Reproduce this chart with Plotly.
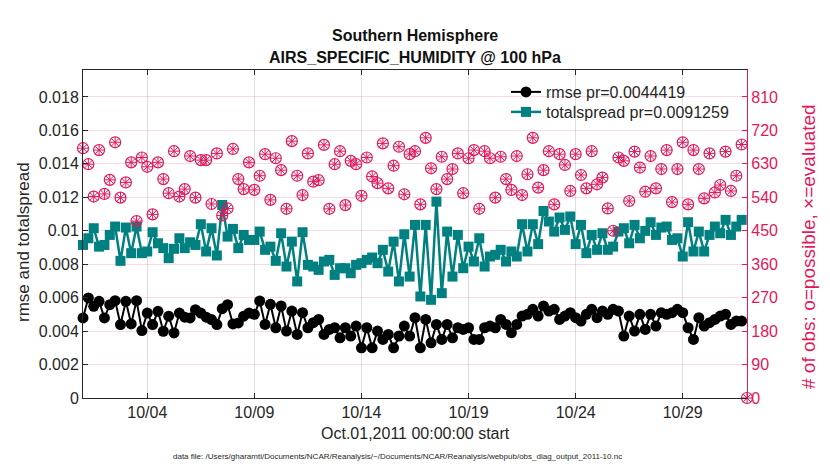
import pandas as pd
import plotly.graph_objects as go

# ---------------- data ----------------
start = "2011-10-01 00:00:00"
n_bins = 124

rmse = [
    0.00479, 0.00598, 0.00548, 0.00578, 0.00479, 0.00558, 0.00582, 0.00439, 0.00578, 0.00443,
    0.00582, 0.00403, 0.00508, 0.00439, 0.00518, 0.00399, 0.00489, 0.00389, 0.00508, 0.00483,
    0.00479, 0.00528, 0.00508, 0.00483, 0.00469, 0.00439, 0.00534, 0.00558, 0.00443, 0.00449,
    0.00489, 0.00508,
    0.0050, 0.0058, 0.0044, 0.0056, 0.0042, 0.0055, 0.0040, 0.0052, 0.0038,
    0.0051, 0.0042, 0.0045, 0.0047, 0.0038, 0.0041, 0.0042, 0.0036, 0.0042, 0.0037,
    0.0043, 0.0030, 0.0042, 0.0030, 0.0040, 0.0035, 0.0038, 0.0030, 0.0037, 0.0043,
    0.0037, 0.0048, 0.0030, 0.0047, 0.0033, 0.0044, 0.0035, 0.0044, 0.0036, 0.0042,
    0.0041, 0.0042, 0.0035, 0.0035, 0.0042, 0.0043, 0.0042, 0.0047, 0.0044, 0.0039,
    0.0044,
    0.0049, 0.0050, 0.0053, 0.0049, 0.0055, 0.0052, 0.0053, 0.0047, 0.0049, 0.0051,
    0.0048, 0.0046, 0.0050, 0.0053, 0.0048, 0.0052, 0.0050, 0.0053, 0.0052,
    0.0037, 0.0049, 0.0040, 0.0050, 0.0041, 0.0050, 0.0043, 0.0051,
    0.0050, 0.0051, 0.0053,
    0.0051, 0.0042, 0.0035, 0.0048, 0.0043,
    0.0045, 0.0047, 0.0049, 0.0050, 0.0044, 0.0046, 0.0046,
]

totalspread = [
    0.00915, 0.00955, 0.01015, 0.00905, 0.00915, 0.00975, 0.01025, 0.00820, 0.01019, 0.00866,
    0.01025, 0.00866, 0.00876, 0.00991, 0.00925, 0.00896, 0.00836, 0.00892, 0.00955, 0.00896,
    0.00931, 0.00915, 0.01039, 0.00876, 0.01015, 0.00852, 0.01154, 0.00965, 0.01011, 0.00896,
    0.00975, 0.00945,
    0.00945, 0.00995, 0.00886, 0.00905, 0.00820, 0.00985, 0.00786, 0.00935, 0.00697, 0.00991,
    0.00796, 0.00786, 0.00766, 0.00816, 0.00826, 0.00736, 0.00776, 0.00776, 0.00746, 0.00796,
    0.00806, 0.00826, 0.00840, 0.00806, 0.00886, 0.00756, 0.00935, 0.00697, 0.00979, 0.00726,
    0.01035,
    0.00607, 0.01035, 0.00587, 0.01174, 0.00627, 0.00995, 0.00726, 0.00975, 0.00776, 0.00905,
    0.00816, 0.00955, 0.00786, 0.00846, 0.00856, 0.00886, 0.00816, 0.00876, 0.00846, 0.01039,
    0.00876, 0.01039, 0.00920, 0.01118, 0.01055, 0.00995, 0.01079, 0.01005, 0.01085, 0.00920,
    0.01035,
    0.00866, 0.00975, 0.00886, 0.00985, 0.00886, 0.00905, 0.00995, 0.01015, 0.00925, 0.01035,
    0.00955, 0.00999, 0.01051, 0.00975, 0.01019, 0.01025, 0.00945, 0.00955, 0.00846, 0.01051,
    0.00876, 0.00995, 0.00876, 0.00975, 0.01025, 0.00985, 0.01065, 0.00975, 0.01025, 0.01065,
]

obs_possible = [
    672, 629, 542, 667, 549, 587, 688, 539, 580, 634,
    476, 647, 622, 494, 634, 589, 551, 664, 542, 562,
    651, 539, 640, 640, 522, 658, 491, 510, 670, 589,
    562, 634, 560, 598, 656, 533, 645, 613, 509, 691,
    598, 546, 658, 582, 586, 681, 509, 629, 664, 519,
    638, 629, 544, 647, 596, 578, 685, 564, 625, 676,
    548, 656, 664, 521, 700, 618, 562, 649, 589, 616,
    658, 551, 645, 667, 509, 664, 645, 539, 649, 589,
    560, 651, 546, 602, 700, 566, 613, 664, 521, 656,
    627, 557, 656, 600, 564, 664, 575, 593, 510, 450,
    647, 638, 530, 663, 620, 555, 651, 564, 616, 667,
    527, 616, 688, 521, 667, 616, 537, 658, 553, 573,
    663, 557, 598, 682, 0,
]
obs_evaluated = list(obs_possible)

x_tick_dates = ["2011-10-04", "2011-10-09", "2011-10-14", "2011-10-19", "2011-10-24", "2011-10-29"]
x_tick_labels = ["10/04", "10/09", "10/14", "10/19", "10/24", "10/29"]
left_ticks = [0, 0.002, 0.004, 0.006, 0.008, 0.010, 0.012, 0.014, 0.016, 0.018]
left_tick_labels = ["0", "0.002", "0.004", "0.006", "0.008", "0.01", "0.012", "0.014", "0.016", "0.018"]
right_ticks = [0, 90, 180, 270, 360, 450, 540, 630, 720, 810]

rmse_name = "rmse pr=0.0044419"
spread_name = "totalspread pr=0.0091259"
title1 = "Southern Hemisphere"
title2 = "AIRS_SPECIFIC_HUMIDITY @ 100 hPa"
xlabel = "Oct.01,2011 00:00:00 start"
ylabel_left = "rmse and totalspread"
ylabel_right = "# of obs: o=possible, \u00d7=evaluated"
footnote = ("data file: /Users/gharamti/Documents/NCAR/Reanalysis/~/Documents/NCAR/"
            "Reanalysis/webpub/obs_diag_output_2011-10.nc")

# ---------------- figure ----------------
times = pd.date_range(start, periods=n_bins, freq="6h")
times_obs = pd.date_range(start, periods=len(obs_possible), freq="6h")

FONT = "Liberation Sans, Arial, Helvetica, sans-serif"
RED = "#e3175a"
TEAL = "#008080"
INK = "#262626"

fig = go.Figure()
fig.add_trace(go.Scatter(
    x=times, y=rmse, name=rmse_name, mode="lines+markers", legend="legend",
    line=dict(color="black", width=2),
    marker=dict(symbol="circle", size=11, color="black"),
    cliponaxis=False,
))
fig.add_trace(go.Scatter(
    x=times, y=totalspread, name=spread_name, mode="lines+markers", legend="legend2",
    line=dict(color=TEAL, width=2.5),
    marker=dict(symbol="square", size=10, color=TEAL),
    cliponaxis=False,
))
fig.add_trace(go.Scatter(
    x=times_obs, y=obs_possible, yaxis="y2", mode="markers", showlegend=False,
    marker=dict(symbol="circle-open", size=11, color=RED, line=dict(width=1.2, color=RED)),
    cliponaxis=False,
))
fig.add_trace(go.Scatter(
    x=times_obs, y=obs_evaluated, yaxis="y2", mode="markers", showlegend=False,
    marker=dict(symbol="asterisk-open", size=9, color=RED, line=dict(width=1, color=RED)),
    cliponaxis=False,
))

# the page has an 8px body margin; figure is sized so the plot lands on the
# reference pixel box (83..747 x 70..398 in the screenshot)
ymax = 0.01961
leg_common = dict(xanchor="left", yanchor="middle", bgcolor="rgba(0,0,0,0)", borderwidth=0,
                  font=dict(size=16, color=INK))
fig.update_layout(
    width=822, height=462,
    margin=dict(l=75, r=83, t=62, b=72),
    paper_bgcolor="white", plot_bgcolor="white",
    font=dict(family=FONT, size=16, color=INK),
    showlegend=True,
    legend=dict(x=(506 - 83) / 664.0, y=(398 - 92) / 328.0, **leg_common),
    legend2=dict(x=(506 - 83) / 664.0, y=(398 - 112) / 328.0, **leg_common),
    xaxis=dict(
        type="date", range=["2011-10-01 00:00:00", "2011-11-01 00:00:00"],
        tickvals=x_tick_dates, ticktext=x_tick_labels,
        ticks="inside", ticklen=5, tickcolor=INK,
        showline=True, linecolor=INK, linewidth=1, mirror="ticks",
        showgrid=True, gridcolor="#dedede", gridwidth=1, zeroline=False,
        tickfont=dict(size=16, color=INK),
    ),
    yaxis=dict(
        range=[0, ymax], tickvals=left_ticks, ticktext=left_tick_labels,
        ticks="inside", ticklen=5, tickcolor=INK,
        showline=True, linecolor=INK, linewidth=1,
        showgrid=False, zeroline=False,
        tickfont=dict(size=16, color=INK),
    ),
    yaxis2=dict(
        range=[0, ymax * 45000], tickvals=right_ticks, overlaying="y", side="right",
        ticks="inside", ticklen=5, tickcolor=RED,
        showline=True, linecolor=RED, linewidth=1.2,
        showgrid=True, gridcolor="rgba(227,23,90,0.16)", gridwidth=1, zeroline=False,
        tickfont=dict(size=16, color=RED),
    ),
)


def px_x(X):
    return (X - 83) / 664.0


def px_y(Y):
    return (398 - Y) / 328.0


for text, Y in ((title1, 36), (title2, 57)):
    fig.add_annotation(text="<b>" + text + "</b>", xref="paper", yref="paper", x=px_x(415),
                       y=px_y(Y), xanchor="center", yanchor="middle", showarrow=False,
                       font=dict(size=16, color="#111111"))

fig.add_annotation(text=xlabel, xref="paper", yref="paper", x=px_x(415), y=px_y(433),
                   xanchor="center", yanchor="middle", showarrow=False,
                   font=dict(size=16, color=INK))
fig.add_annotation(text=footnote, xref="paper", yref="paper", x=px_x(397), y=px_y(456),
                   xanchor="center", yanchor="middle", showarrow=False,
                   font=dict(size=8, color=INK))
fig.add_annotation(text=ylabel_left, xref="paper", yref="paper", x=px_x(23), y=px_y(242),
                   xanchor="center", yanchor="middle", textangle=-90, showarrow=False,
                   font=dict(size=17, color=INK))
fig.add_annotation(text=ylabel_right, xref="paper", yref="paper", x=px_x(809), y=px_y(247),
                   xanchor="center", yanchor="middle", textangle=-90, showarrow=False,
                   font=dict(size=19, color=RED))

fig.write_html("out.html")
